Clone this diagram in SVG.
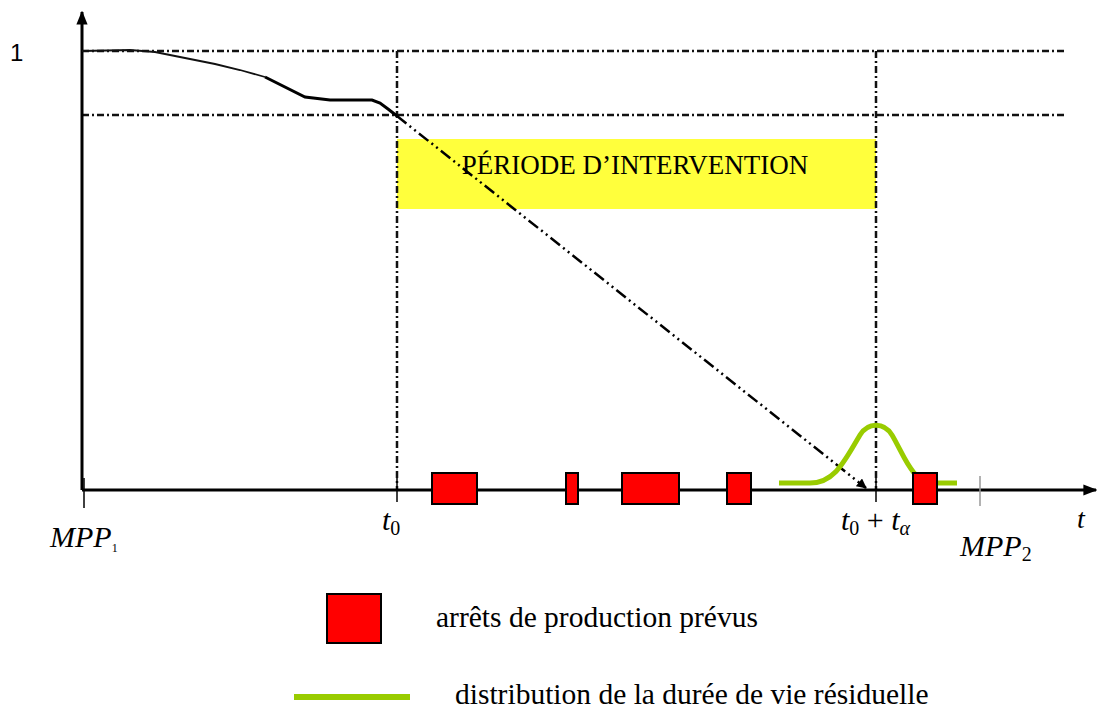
<svg xmlns="http://www.w3.org/2000/svg" width="1101" height="710" viewBox="0 0 1101 710">
<style>
.dd{fill:none;stroke:#111;stroke-width:2.5;stroke-dasharray:7 3 2 3}
.ax{fill:none;stroke:#000;stroke-width:3}
.tk{stroke:#000;stroke-width:1.5}
.stop{fill:#ff0000;stroke:#000;stroke-width:2}
text{font-family:'Liberation Serif','Times New Roman',serif;fill:#000}
.it{font-style:italic}
</style>
<defs>
<marker id="ah" viewBox="0 0 10 10" refX="9" refY="5" markerWidth="10" markerHeight="10" markerUnits="userSpaceOnUse" orient="auto">
<path d="M0,0 L10,5 L0,10 z" fill="#000"/>
</marker>
<marker id="ahBig" viewBox="0 0 10 10" refX="9" refY="5" markerWidth="14" markerHeight="14" markerUnits="userSpaceOnUse" orient="auto">
<path d="M0,1 L10,5 L0,9 z" fill="#000"/>
</marker>
</defs>
<rect width="1101" height="710" fill="#fff"/>
<g id="period">
<rect x="397" y="139" width="479" height="70" fill="#ffff1a" opacity="0.85"/>
<text x="635" y="174" font-size="27" text-anchor="middle">PÉRIODE D’INTERVENTION</text>
</g>
<g id="guides">
<line class="dd" x1="82" y1="51" x2="1065" y2="51"/>
<line class="dd" x1="82" y1="115" x2="1065" y2="115"/>
<line class="dd" x1="397" y1="51" x2="397" y2="490"/>
<line class="dd" x1="876" y1="51" x2="876" y2="490"/>
</g>
<g id="axes">
<line class="ax" x1="82" y1="490" x2="82" y2="12" marker-end="url(#ahBig)"/>
<line class="ax" x1="82" y1="490" x2="1096" y2="490" marker-end="url(#ahBig)"/>
<line class="tk" x1="84" y1="478" x2="84" y2="508"/>
<line class="tk" x1="397" y1="478" x2="397" y2="502"/>
<line class="tk" x1="876" y1="478" x2="876" y2="502"/>
<line x1="980" y1="476" x2="980" y2="506" stroke="#999" stroke-width="1.5"/>
</g>
<g id="survival">
<path d="M82,51 L130,50 L155,52 L185,58 L215,64 L240,70 L265,77" fill="none" stroke="#111" stroke-width="1.8"/>
<path d="M265,77 L305,97 L330,100 L372,100 L380,103 L388,109 L397,116" fill="none" stroke="#000" stroke-width="3"/>
<line x1="397" y1="116" x2="866" y2="488" stroke="#000" stroke-width="2.5" stroke-dasharray="12 4 2 4 2 4" marker-end="url(#ah)"/>
</g>
<g id="distribution">
<path d="M779,483 L810,483 C835,483 845,460 860,435 C868,422 884,422 892,435 C905,457 912,483 935,483 L957,483" fill="none" stroke="#99cc00" stroke-width="5"/>
</g>
<g id="stops">
<rect class="stop" x="432" y="473" width="45" height="31"/>
<rect class="stop" x="566" y="473" width="12" height="31"/>
<rect class="stop" x="622" y="473" width="57" height="31"/>
<rect class="stop" x="727" y="473" width="24" height="31"/>
<rect class="stop" x="913" y="473" width="24" height="31"/>
</g>
<g id="labels">
<text x="10" y="61" style="font-family:'Liberation Sans',Arial,sans-serif" font-size="24">1</text>
<text class="it" x="50" y="547" font-size="30">MPP<tspan font-size="12" font-style="normal" dy="5">1</tspan></text>
<text class="it" x="382" y="530" font-size="30">t<tspan font-size="20" font-style="normal" dy="5">0</tspan></text>
<text class="it" x="841" y="530" font-size="30">t<tspan font-size="20" font-style="normal" dy="5">0</tspan><tspan font-style="normal" dy="-5"> + </tspan>t<tspan font-size="20" dy="5">α</tspan></text>
<text class="it" x="1077" y="528" font-size="28">t</text>
<text class="it" x="960" y="556" font-size="30">MPP<tspan font-size="20" font-style="normal" dy="5">2</tspan></text>
</g>
<g id="legend">
<rect class="stop" x="327" y="594" width="54" height="49"/>
<text x="436" y="627" font-size="29.5">arrêts de production prévus</text>
<line x1="294" y1="697" x2="410" y2="697" stroke="#99cc00" stroke-width="6"/>
<text x="455" y="704" font-size="29.5">distribution de la durée de vie résiduelle</text>
</g>
</svg>
